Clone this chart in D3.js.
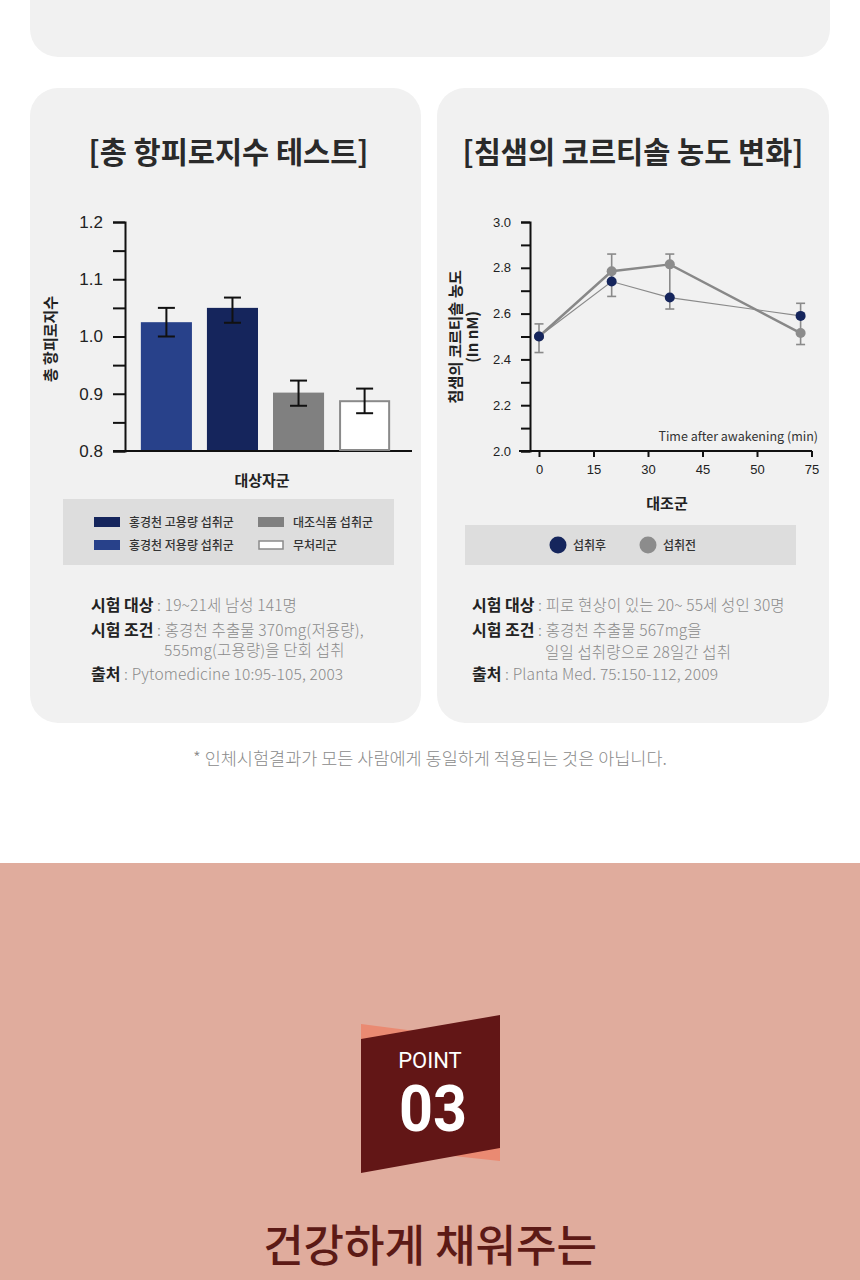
<!DOCTYPE html>
<html><head><meta charset="utf-8">
<script src="https://cdn.jsdelivr.net/npm/d3@7"></script>
<style>
html,body{margin:0;padding:0;background:#fff;}
svg{display:block;}
text{font-family:"Noto Sans CJK KR","Noto Sans",sans-serif;}
</style></head>
<body>
<svg id="c" width="860" height="1280"></svg>
<script>
// ---------- Data ----------
const barGroups = ["홍경천 저용량 섭취군","홍경천 고용량 섭취군","대조식품 섭취군","무처리군"];
const barValues = [1.025, 1.05, 0.902, 0.887];
const barErrLow = [1.000, 1.024, 0.879, 0.866];
const barErrHigh = [1.050, 1.068, 0.923, 0.909];
const barYTicks = [0.8, 0.9, 1.0, 1.1, 1.2];
const legendLeft = ["홍경천 고용량 섭취군","홍경천 저용량 섭취군","대조식품 섭취군","무처리군"];

const timePoints = [0, 20, 36, 72];
const afterValues = [2.50, 2.74, 2.67, 2.59];   // 섭취후
const beforeValues = [2.50, 2.785, 2.815, 2.515]; // 섭취전
const lineErrLow = [2.43, 2.675, 2.62, 2.465];
const lineErrHigh = [2.555, 2.86, 2.86, 2.645];
const lineXTickValues = [0, 15, 30, 45, 60, 75];
const lineXTickLabels = ["0","15","30","45","50","75"];
const lineYTicks = [2.0, 2.2, 2.4, 2.6, 2.8, 3.0];
const lineSeries = ["섭취후","섭취전"];

const svg = d3.select("#c");
const C = {navyDark:"#15255c", navy:"#28418a", grey:"#808080", card:"#f1f1f1", legendBg:"#dddddd"};

// ---------- Backgrounds ----------
svg.append("rect").attr("x",30).attr("y",-40).attr("width",800).attr("height",97).attr("rx",28).attr("fill",C.card);
svg.append("rect").attr("x",30).attr("y",88).attr("width",391).attr("height",635).attr("rx",28).attr("fill",C.card);
svg.append("rect").attr("x",437).attr("y",88).attr("width",392).attr("height",635).attr("rx",28).attr("fill",C.card);

// titles
svg.append("text").attr("x",228.5).attr("y",163).attr("text-anchor","middle").attr("font-size",29.5).attr("font-weight",700).attr("fill","#2a2a2a").text("[총 항피로지수 테스트]");
svg.append("text").attr("x",633).attr("y",163).attr("text-anchor","middle").attr("font-size",29.5).attr("font-weight",700).attr("fill","#2a2a2a").text("[침샘의 코르티솔 농도 변화]");

// ---------- Left bar chart ----------
const yB = d3.scaleLinear().domain([0.8,1.2]).range([451,222]);
const xB = d3.scaleBand().domain(barGroups).range([125,406]).paddingInner(0.227).paddingOuter(0.24);
const gB = svg.append("g");
const yAxisB = d3.axisLeft(yB).tickValues(d3.range(0.8,1.2001,0.05)).tickSize(12)
  .tickFormat(d => barYTicks.some(t=>Math.abs(t-d)<1e-6) ? d3.format(".1f")(d) : "");
const gyB = gB.append("g").attr("transform","translate(125,0)").call(yAxisB);
gyB.select(".domain").attr("stroke","#111").attr("stroke-width",2);
gyB.selectAll(".tick line").attr("stroke","#111").attr("stroke-width",2);
gyB.selectAll(".tick text").attr("x",-22).attr("font-size",17).attr("fill","#222").style("font-family","'Liberation Sans',Arial,sans-serif");
gB.append("line").attr("x1",113).attr("x2",412).attr("y1",yB(0.8)).attr("y2",yB(0.8)).attr("stroke","#111").attr("stroke-width",2);
const barFill = [C.navy, C.navyDark, C.grey, "#ffffff"];
gB.selectAll("rect.bar").data(barValues).join("rect").attr("class","bar")
  .attr("x",(d,i)=>xB(barGroups[i]) + (i===3?1:0))
  .attr("width",(d,i)=>xB.bandwidth() - (i===3?2:0))
  .attr("y",d=>yB(d)).attr("height",d=>yB(0.8)-yB(d)-1)
  .attr("fill",(d,i)=>barFill[i])
  .attr("stroke",(d,i)=>i===3?"#8a8a8a":"none").attr("stroke-width",2);
barValues.forEach((v,i)=>{
  const cx = xB(barGroups[i]) + xB.bandwidth()/2;
  const g = gB.append("g").attr("stroke","#111").attr("stroke-width",2);
  g.append("line").attr("x1",cx).attr("x2",cx).attr("y1",yB(barErrLow[i])).attr("y2",yB(barErrHigh[i]));
  g.append("line").attr("x1",cx-8.5).attr("x2",cx+8.5).attr("y1",yB(barErrLow[i])).attr("y2",yB(barErrLow[i]));
  g.append("line").attr("x1",cx-8.5).attr("x2",cx+8.5).attr("y1",yB(barErrHigh[i])).attr("y2",yB(barErrHigh[i]));
});
svg.append("text").attr("transform","translate(56,339) rotate(-90)").attr("text-anchor","middle").attr("font-size",15).attr("font-weight",700).attr("fill","#222").text("총 항피로지수");
svg.append("text").attr("x",262).attr("y",486).attr("text-anchor","middle").attr("font-size",15).attr("font-weight",700).attr("fill","#222").text("대상자군");

// left legend
svg.append("rect").attr("x",63).attr("y",499).attr("width",331).attr("height",66).attr("fill",C.legendBg);
const legFill = [C.navyDark, C.navy, C.grey, "#ffffff"];
const legPos = [[94,522],[94,545],[258,522],[258,545]];
legendLeft.forEach((t,i)=>{
  const [x,y]=legPos[i];
  svg.append("rect").attr("x",x).attr("y",y-5).attr("width",i===3?24:26).attr("height",i===3?8:10)
    .attr("transform",i===3?"translate(1,1)":null)
    .attr("fill",legFill[i]).attr("stroke",i===3?"#8a8a8a":"none").attr("stroke-width",1.5);
  svg.append("text").attr("x",x+35).attr("y",y+4.5).attr("font-size",12).attr("font-weight",500).attr("fill","#333").text(t);
});

// ---------- Right line chart ----------
const xL = d3.scaleLinear().domain([0,75]).range([539,811.5]);
const yL = d3.scaleLinear().domain([2.0,3.0]).range([451,222]);
const gL = svg.append("g");
const yAxisL = d3.axisLeft(yL).tickValues(d3.range(2.0,3.0001,0.1)).tickSize(9)
  .tickFormat(d => lineYTicks.some(t=>Math.abs(t-d)<1e-6) ? d3.format(".1f")(d) : "");
const gyL = gL.append("g").attr("transform","translate(530,0)").call(yAxisL);
gyL.select(".domain").attr("stroke","#111").attr("stroke-width",2);
gyL.selectAll(".tick line").attr("stroke","#111").attr("stroke-width",2);
gyL.selectAll(".tick text").attr("x",-19).attr("font-size",13).attr("fill","#222").style("font-family","'Liberation Sans',Arial,sans-serif");
const xAxisL = d3.axisBottom(xL).tickValues(lineXTickValues).tickSize(6).tickFormat((d,i)=>lineXTickLabels[i]);
const gxL = gL.append("g").attr("transform",`translate(0,${yL(2.0)})`).call(xAxisL);
gxL.select(".domain").remove();
gL.append("line").attr("x1",519).attr("x2",812).attr("y1",yL(2.0)).attr("y2",yL(2.0)).attr("stroke","#111").attr("stroke-width",2);
gxL.selectAll(".tick line").attr("stroke","#111").attr("stroke-width",2);
gxL.selectAll(".tick text").attr("y",14).attr("font-size",13).attr("fill","#222").style("font-family","'Liberation Sans',Arial,sans-serif");

timePoints.forEach((t,i)=>{
  const cx = xL(t);
  const g = gL.append("g").attr("stroke","#8a8a8a").attr("stroke-width",1.6);
  g.append("line").attr("x1",cx).attr("x2",cx).attr("y1",yL(lineErrLow[i])).attr("y2",yL(lineErrHigh[i]));
  g.append("line").attr("x1",cx-4.5).attr("x2",cx+4.5).attr("y1",yL(lineErrLow[i])).attr("y2",yL(lineErrLow[i]));
  g.append("line").attr("x1",cx-4.5).attr("x2",cx+4.5).attr("y1",yL(lineErrHigh[i])).attr("y2",yL(lineErrHigh[i]));
});
const line = d3.line().x((d,i)=>xL(timePoints[i])).y(d=>yL(d));
gL.append("path").datum(afterValues).attr("d",line).attr("fill","none").attr("stroke","#8a8a8a").attr("stroke-width",1.2);
gL.append("path").datum(beforeValues).attr("d",line).attr("fill","none").attr("stroke","#888").attr("stroke-width",2.4);
gL.selectAll("circle.b").data(beforeValues).join("circle").attr("class","b")
  .attr("cx",(d,i)=>xL(timePoints[i])).attr("cy",d=>yL(d)).attr("r",5).attr("fill","#8c8c8c");
gL.selectAll("circle.a").data(afterValues).join("circle").attr("class","a")
  .attr("cx",(d,i)=>xL(timePoints[i])).attr("cy",d=>yL(d)).attr("r",5).attr("fill","#15255c");

svg.append("text").attr("x",818).attr("y",441).attr("text-anchor","end").attr("font-size",12.5).attr("fill","#333").text("Time after awakening (min)");
svg.append("text").attr("transform","translate(461,337) rotate(-90)").attr("text-anchor","middle").attr("font-size",15.3).attr("font-weight",700).attr("fill","#222").text("침샘의 코르티솔 농도");
svg.append("text").attr("transform","translate(478,337) rotate(-90)").attr("text-anchor","middle").attr("font-size",15).attr("font-weight",700).attr("fill","#222").text("(In nM)");
svg.append("text").attr("x",667).attr("y",509).attr("text-anchor","middle").attr("font-size",15).attr("font-weight",700).attr("fill","#222").text("대조군");

svg.append("rect").attr("x",465).attr("y",525).attr("width",331).attr("height",40).attr("fill",C.legendBg);
[[558,"#15255c"],[648,"#8c8c8c"]].forEach(([x,c],i)=>{
  svg.append("circle").attr("cx",x).attr("cy",545).attr("r",8.5).attr("fill",c);
  svg.append("text").attr("x",x+15).attr("y",549.5).attr("font-size",12).attr("font-weight",500).attr("fill","#333").text(lineSeries[i]);
});

// ---------- Footnotes ----------
function note(x,y,label,val,val2,y2){
  const t = svg.append("text").attr("x",x).attr("y",y).attr("font-size",16);
  t.append("tspan").attr("font-weight",700).attr("fill","#222").text(label);
  t.append("tspan").attr("fill","#8a8a8a").attr("font-size",15.5).attr("font-weight",300).attr("letter-spacing",0.15).text(" : "+val);
  if(val2){
    svg.append("text").attr("x",x+73).attr("y",y2).attr("font-size",15.5).attr("font-weight",300).attr("letter-spacing",0.15).attr("fill","#8a8a8a").text(val2);
  }
}
note(91,611,"시험 대상","19~21세 남성 141명");
note(91,636,"시험 조건","홍경천 추출물 370mg(저용량),","555mg(고용량)을 단회 섭취",656);
note(91,680,"출처","Pytomedicine 10:95-105, 2003");
note(472,611,"시험 대상","피로 현상이 있는 20~ 55세 성인 30명");
note(472,636,"시험 조건","홍경천 추출물 567mg을","일일 섭취량으로 28일간 섭취",658);
note(472,680,"출처","Planta Med. 75:150-112, 2009");

svg.append("text").attr("x",430).attr("y",765).attr("text-anchor","middle").attr("font-size",17.5).attr("font-weight",300).attr("fill","#8a8a8a").text("* 인체시험결과가 모든 사람에게 동일하게 적용되는 것은 아닙니다.");

// ---------- Pink section ----------
svg.append("rect").attr("x",0).attr("y",863).attr("width",860).attr("height",417).attr("fill","#e0ac9d");
svg.append("polygon").attr("points","361,1024 500,1042 500,1161 361,1146").attr("fill","#ea8a72");
svg.append("polygon").attr("points","361,1039 500,1015 500,1148 361,1173").attr("fill","#621616");
svg.append("text").attr("x",430).attr("y",1068).attr("text-anchor","middle").attr("font-size",22).attr("fill","#fff").style("font-family","Roboto,sans-serif").text("POINT");
svg.append("text").attr("x",433).attr("y",1131).attr("text-anchor","middle").attr("font-size",64).attr("font-weight",700).attr("fill","#fff").attr("textLength",68).attr("lengthAdjust","spacingAndGlyphs").style("font-family","Roboto,sans-serif").text("03");
svg.append("text").attr("x",430).attr("y",1262).attr("text-anchor","middle").attr("font-size",44).attr("font-weight",500).attr("fill","#5c1a16").text("건강하게 채워주는");
</script>
</body></html>
